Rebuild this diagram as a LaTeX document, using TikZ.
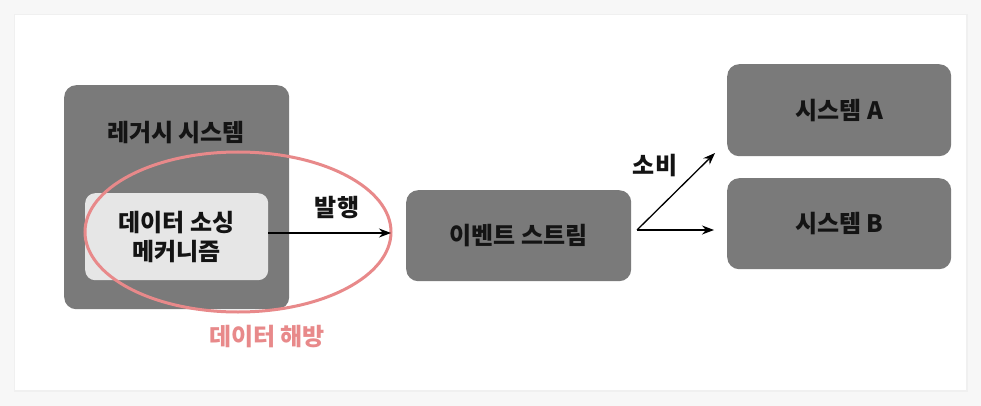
\documentclass[tikz,border=0pt]{standalone}
\usepackage{fontspec}
\setmainfont{Noto Sans CJK KR}[BoldFont={Noto Sans CJK KR Black}]
\usetikzlibrary{arrows.meta,shapes.geometric}
\definecolor{bg}{HTML}{F7F7F7}
\definecolor{boxgray}{HTML}{7A7A7A}
\definecolor{inner}{HTML}{E6E6E6}
\definecolor{pinkc}{HTML}{E8898A}
\tikzset{
  sysbox/.style={fill=boxgray, rounded corners=12pt, draw=none},
  lbl/.style={font=\bfseries\fontsize{24}{29}\selectfont, text=black!92, align=center},
  conn/.style={line width=1.3pt, -{Stealth[length=12pt,width=9pt]}},
}
\begin{document}
\begin{tikzpicture}[x=1pt,y=-1pt]
\useasboundingbox (0,0) rectangle (981,406);
\fill[bg] (0,0) rectangle (981,406);
\fill[black!6] (14,14) rectangle (968,392);
\fill[white] (15,15) rectangle (966,390);
% legacy
\node[sysbox, minimum width=225pt, minimum height=224pt, anchor=north west] (legacy) at (64,85) {};
\node[lbl] (legacylbl) at (176,133) {레거시 시스템};
\node[fill=inner, rounded corners=10pt, minimum width=183pt, minimum height=87pt, anchor=north west, lbl] (es) at (85,193) {데이터 소싱\\메커니즘};
% event stream
\node[sysbox, minimum width=225pt, minimum height=91pt, anchor=north west, lbl] (stream) at (406,190) {이벤트 스트림};
% systems
\node[sysbox, minimum width=224pt, minimum height=92pt, anchor=north west, lbl] (sa) at (727,64) {시스템 A};
\node[sysbox, minimum width=224pt, minimum height=91pt, anchor=north west, lbl] (sb) at (727,178) {시스템 B};
% ellipse
\node[draw=pinkc, line width=3pt, ellipse, minimum width=306pt, minimum height=160pt, inner sep=0pt] (lib) at (238,232) {};
\node[lbl, text=pinkc] (liblbl) at (267,337) {데이터 해방};
% arrows
\coordinate (pubend) at (391,233);
\draw[conn] (es.east |- pubend) -- (pubend);
\node[lbl] (publbl) at (337,208) {발행};
\coordinate (fork) at (637,230);
\coordinate (toA) at (715,153);
\coordinate (toB) at (714,230);
\draw[conn] (fork) -- (toA);
\draw[conn] (fork) -- (toB);
\node[lbl] (conslbl) at (655,166) {소비};
\end{tikzpicture}
\end{document}
